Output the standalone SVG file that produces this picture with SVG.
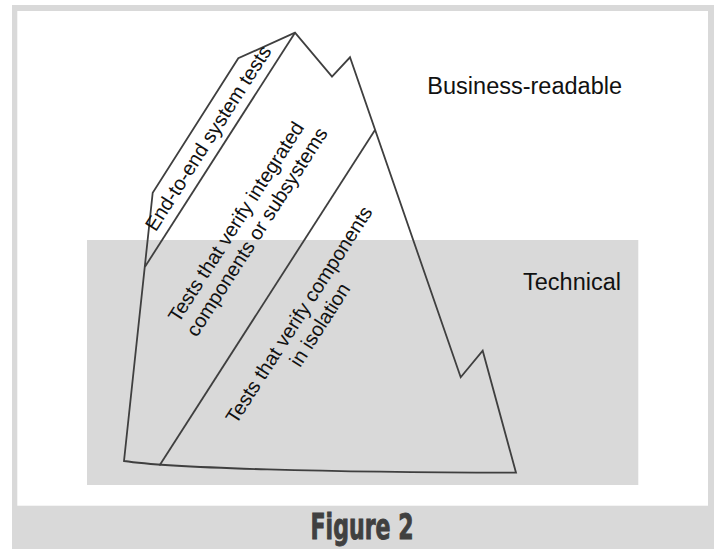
<svg xmlns="http://www.w3.org/2000/svg" width="717" height="549" viewBox="0 0 717 549">
  <style>
    .outline { fill: none; stroke: #3f3f3f; stroke-width: 1.8; stroke-linejoin: miter; }
    .lbl { font-family: "Liberation Sans", Arial, sans-serif; font-size: 20px; fill: #111; text-anchor: middle; }
    .side { font-family: "Liberation Sans", Arial, sans-serif; font-size: 23.5px; fill: #111; text-anchor: end; }
    .fig { font-family: "Liberation Sans Narrow", "DejaVu Sans Condensed", "Liberation Sans", sans-serif; font-weight: bold; font-size: 35px; fill: #404040; stroke: #404040; stroke-width: 0.9; text-anchor: middle; }
  </style>
  <rect x="0" y="0" width="717" height="549" fill="#ffffff"/>
  <g id="frame">
    <rect x="12" y="5" width="702" height="544" fill="#d9d9d9"/>
    <rect x="17.3" y="11" width="690.7" height="494.7" fill="#ffffff"/>
  </g>
  <g id="technical-zone">
    <rect x="87" y="240" width="551.3" height="245" fill="#d9d9d9"/>
    <text class="side" x="621" y="290">Technical</text>
  </g>
  <g id="business-zone">
    <text class="side" x="622" y="94">Business-readable</text>
  </g>
  <g id="iceberg">
    <path class="outline" d="M124,461 L152.7,192.7 L238.3,58.3 L295,32.7 L332,76.7 L350,57.3 L460.7,377.3 L482.7,350.7 L516,472.7 C330,472.5 170,468 124,461 Z"/>
  </g>
  <g id="connectors">
    <line class="outline" x1="145" y1="266.7" x2="295" y2="32.7"/>
    <line class="outline" x1="159.5" y1="465.5" x2="375" y2="130"/>
  </g>
  <g id="end-to-end">
    <text class="lbl" transform="translate(208,138) rotate(-57.3)" x="0" y="7">End-to-end system tests</text>
  </g>
  <g id="integrated">
    <text class="lbl" transform="translate(247,225.6) rotate(-57.3)">
      <tspan x="0" y="-4.5">Tests that verify integrated</tspan>
      <tspan x="0" y="18.5">components or subsystems</tspan>
    </text>
  </g>
  <g id="isolation">
    <text class="lbl" transform="translate(310,318.5) rotate(-57.3)">
      <tspan x="0" y="-4.5">Tests that verify components</tspan>
      <tspan x="0" y="18.5">in isolation</tspan>
    </text>
  </g>
  <g id="caption">
    <text class="fig" x="362" y="538.7" textLength="103" lengthAdjust="spacingAndGlyphs">Figure 2</text>
  </g>
</svg>
